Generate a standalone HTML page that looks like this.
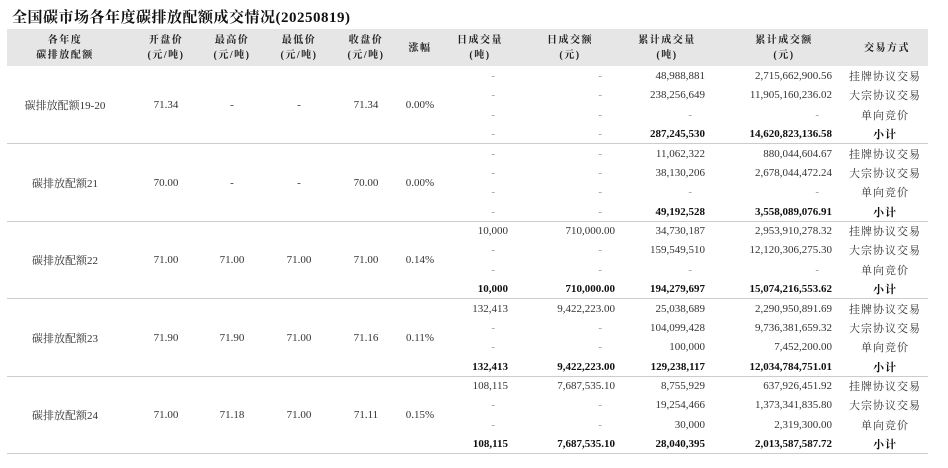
<!DOCTYPE html>
<html><head><meta charset="utf-8"><style>
body{margin:0;width:948px;height:468px;background:#fff;font-family:"Liberation Serif","Noto Serif CJK SC",serif;color:#333;font-size:11px;position:relative;overflow:hidden}
.t{position:absolute;left:12px;top:6px;font-size:15px;font-weight:bold;color:#111;letter-spacing:0.5px}
.hd{position:absolute;left:7px;top:29px;width:921px;height:37px;background:#e6e6e6}
.h{position:absolute;font-weight:bold;font-size:10px;text-align:center;line-height:15px;letter-spacing:1.5px;color:#222;transform:translateX(-50%);white-space:nowrap}
.ln{position:absolute;left:7px;width:921px;height:1px;background:#ccc}
.c{position:absolute;transform:translate(-50%,-50%);white-space:nowrap}
.r{position:absolute;transform:translateY(-50%);white-space:nowrap;text-align:right}
.b{font-weight:bold;color:#111}
</style></head><body>
<div class="t">全国碳市场各年度碳排放配额成交情况(20250819)</div>
<div class="hd"></div>
<div class="h" style="left:65px;top:33px">各年度<br>碳排放配额</div>
<div class="h" style="left:166px;top:33px">开盘价<br>(元/吨)</div>
<div class="h" style="left:232px;top:33px">最高价<br>(元/吨)</div>
<div class="h" style="left:299px;top:33px">最低价<br>(元/吨)</div>
<div class="h" style="left:366px;top:33px">收盘价<br>(元/吨)</div>
<div class="h" style="left:420px;top:41px">涨幅</div>
<div class="h" style="left:480px;top:33px">日成交量<br>(吨)</div>
<div class="h" style="left:570px;top:33px">日成交额<br>(元)</div>
<div class="h" style="left:667px;top:33px">累计成交量<br>(吨)</div>
<div class="h" style="left:784px;top:33px">累计成交额<br>(元)</div>
<div class="h" style="left:887px;top:41px">交易方式</div>
<div id="g"></div>
<script>
var G=[
["碳排放配额19-20","71.34","-","-","71.34","0.00%",
 [["-","-","48,988,881","2,715,662,900.56","挂牌协议交易"],["-","-","238,256,649","11,905,160,236.02","大宗协议交易"],["-","-","-","-","单向竞价"],["-","-","287,245,530","14,620,823,136.58","小计"]]],
["碳排放配额21","70.00","-","-","70.00","0.00%",
 [["-","-","11,062,322","880,044,604.67","挂牌协议交易"],["-","-","38,130,206","2,678,044,472.24","大宗协议交易"],["-","-","-","-","单向竞价"],["-","-","49,192,528","3,558,089,076.91","小计"]]],
["碳排放配额22","71.00","71.00","71.00","71.00","0.14%",
 [["10,000","710,000.00","34,730,187","2,953,910,278.32","挂牌协议交易"],["-","-","159,549,510","12,120,306,275.30","大宗协议交易"],["-","-","-","-","单向竞价"],["10,000","710,000.00","194,279,697","15,074,216,553.62","小计"]]],
["碳排放配额23","71.90","71.90","71.00","71.16","0.11%",
 [["132,413","9,422,223.00","25,038,689","2,290,950,891.69","挂牌协议交易"],["-","-","104,099,428","9,736,381,659.32","大宗协议交易"],["-","-","100,000","7,452,200.00","单向竞价"],["132,413","9,422,223.00","129,238,117","12,034,784,751.01","小计"]]],
["碳排放配额24","71.00","71.18","71.00","71.11","0.15%",
 [["108,115","7,687,535.10","8,755,929","637,926,451.92","挂牌协议交易"],["-","-","19,254,466","1,373,341,835.80","大宗协议交易"],["-","-","30,000","2,319,300.00","单向竞价"],["108,115","7,687,535.10","28,040,395","2,013,587,587.72","小计"]]]
];
var h="",cx=[65,166,232,299,366,420],rx=[508,615,705,832];
G.forEach(function(g,i){
 var top=66+i*77.5,mid=top+39;
 for(var k=0;k<6;k++)h+='<div class="c" style="left:'+cx[k]+'px;top:'+mid+'px">'+g[k]+'</div>';
 g[6].forEach(function(r,j){
  var y=top+10+j*19.4,bold=j==3?' b':'';
  for(var k=0;k<4;k++){var d=r[k]=="-";h+='<div class="r'+(d?'':bold)+'" style="right:'+(948-rx[k]+(d?13:0))+'px;top:'+y+'px;'+(d?'color:#999':'')+'">'+r[k]+'</div>';}
  h+='<div class="c'+bold+'" style="left:885px;top:'+y+'px;letter-spacing:1px">'+r[4]+'</div>';
 });
 h+='<div class="ln" style="top:'+Math.round(top+77)+'px"></div>';
});
document.getElementById("g").innerHTML=h;
</script>
</body></html>
